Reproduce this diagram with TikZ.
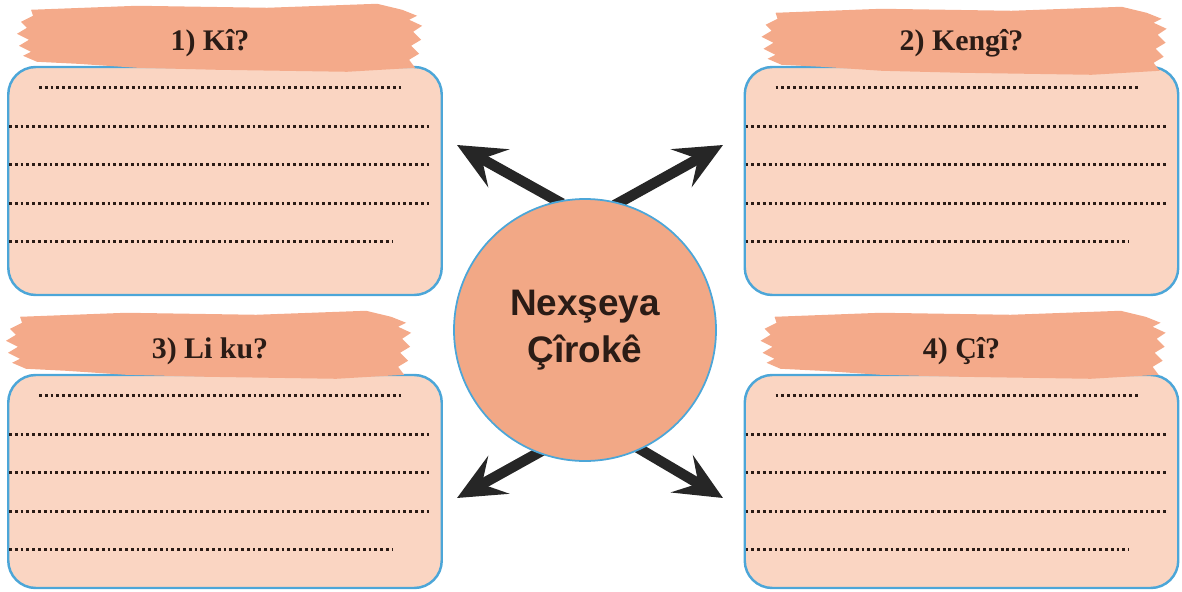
\documentclass[tikz,border=0pt]{standalone}
\usepackage{fontspec}
\setmainfont{Liberation Serif}
\setsansfont{Liberation Sans}
\usetikzlibrary{arrows.meta}
\usetikzlibrary{positioning}

\definecolor{tagfill}{HTML}{F4AA8A}
\definecolor{boxfill}{HTML}{FAD5C2}
\definecolor{boxline}{HTML}{4CA6D8}
\definecolor{storyfill}{HTML}{F2A886}
\definecolor{inkdark}{HTML}{2B1C16}

\pgfdeclarelayer{background}
\pgfsetlayers{background,main}

\tikzset{
  answerbox/.style={draw=boxline,line width=1.4pt,fill=boxfill,rounded corners=0.55cm,
    minimum width=8.67cm,inner sep=0pt},
  dotline/.style={inkdark,line width=1.6pt,dash pattern=on 1.6pt off 1.7pt},
  tagtext/.style={text=inkdark,font=\bfseries\fontsize{17}{20}\selectfont,anchor=base},
  storycircle/.style={circle,draw=boxline,line width=1pt,fill=storyfill,minimum size=5.24cm,
    inner sep=0pt,align=center,text=inkdark,font=\sffamily\bfseries\fontsize{21}{27}\selectfont},
  bigarrow/.style={-{Stealth[length=0.95cm,width=0.86cm,inset=0.38cm]},line width=0.21cm,
    color=black!85,shorten <=-3pt},
  brushtag/.pic={
    \fill[tagfill,x=0.02cm,y=-0.02cm] (14,6) -- (120,2) -- (250,4) -- (360,0) -- (385,6) -- (400,12)
      -- (392,16) -- (405,22) -- (396,28) -- (404,36) -- (394,42) -- (402,50) -- (392,56) -- (398,64)
      -- (330,68) -- (200,66) -- (120,64) -- (60,60) -- (20,58) -- (6,52) -- (14,48)
      -- (2,42) -- (12,36) -- (0,30) -- (10,24) -- (4,18) -- (16,12) -- cycle;
  }
}

\begin{document}
\begin{tikzpicture}
  \useasboundingbox (0,0) rectangle (23.64,11.82);

  % the four answer boxes
  \node[answerbox,minimum height=4.56cm] (box1) at (4.5,8.2) {};
  \node[answerbox,minimum height=4.56cm] (box2) at (19.23,8.2) {};
  \node[answerbox,minimum height=4.26cm] (box3) at (4.5,2.19) {};
  \node[answerbox,minimum height=4.26cm] (box4) at (19.23,2.19) {};

  % dotted writing lines
  \foreach \b in {box1,box2,box3,box4}{
    \draw[dotline] ([shift={(0.64,-0.44)}]\b.north west) -- ++(7.24,0);
    \foreach \k in {1,2,3}
      \draw[dotline] ([shift={(0.04,{-0.44-0.77*\k})}]\b.north west) -- ++(8.44,0);
    \draw[dotline] ([shift={(0.04,-3.52)}]\b.north west) -- ++(7.66,0);
  }

  % torn paper tags
  \pic at ([shift={(0.2,1.24)}]box1.north west) {brushtag};
  \pic at ([shift={(0.36,1.18)}]box2.north west) {brushtag};
  \pic at ([shift={(-0.02,1.26)}]box3.north west) {brushtag};
  \pic at ([shift={(0.34,1.26)}]box4.north west) {brushtag};

  \node[tagtext] (who) at ([shift={(-0.3,0.3)}]box1.north) {1) Kî?};
  \node[tagtext] (when) at ([shift={(0,0.3)}]box2.north) {2) Kengî?};
  \node[tagtext] (where) at ([shift={(-0.3,0.3)}]box3.north) {3) Li ku?};
  \node[tagtext] (what) at ([shift={(0,0.3)}]box4.north) {4) Çî?};

  % centre circle and arrows
  \node[storycircle] (story) at (11.7,5.22) {Nexşeya\\Çîrokê};

  \coordinate (tipNW) at (9.14,8.92);
  \coordinate (tipNE) at (14.46,8.92);
  \coordinate (tipSW) at (9.14,1.86);
  \coordinate (tipSE) at (14.46,1.86);

  \begin{pgfonlayer}{background}
    \draw[bigarrow] (story.102) -- (tipNW);
    \draw[bigarrow] (story.75) -- (tipNE);
    \draw[bigarrow] (story.249) -- (tipSW);
    \draw[bigarrow] (story.295) -- (tipSE);
  \end{pgfonlayer}
\end{tikzpicture}
\end{document}
